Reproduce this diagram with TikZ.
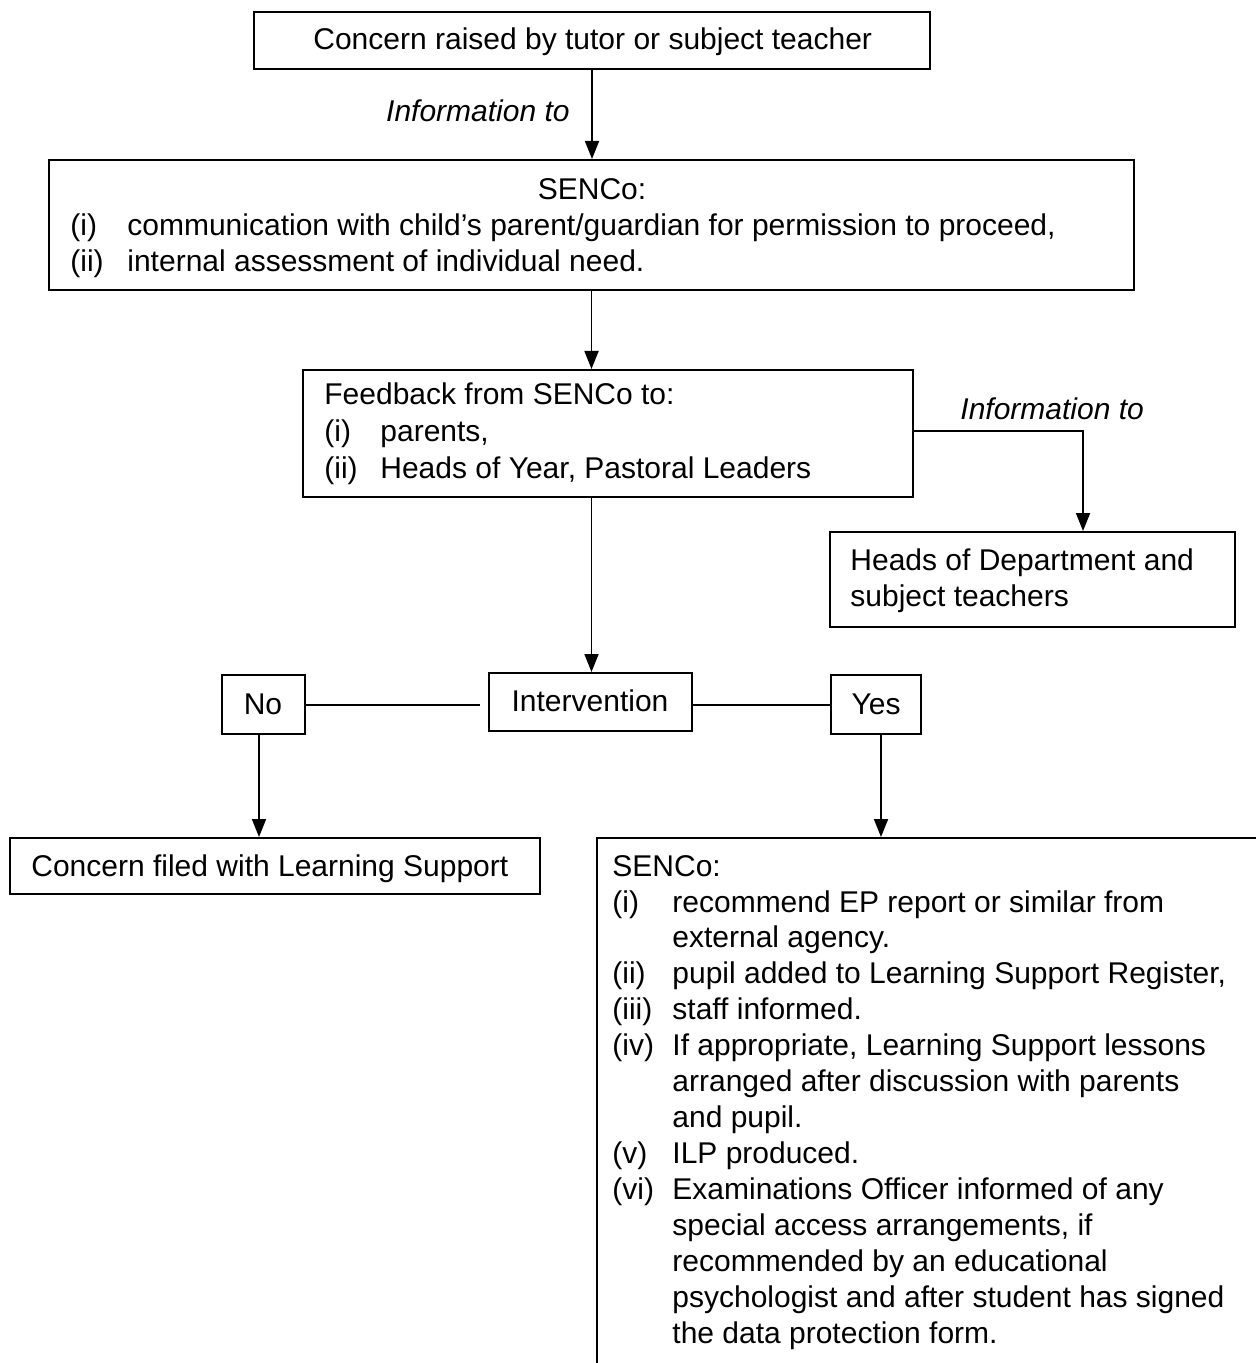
\documentclass[tikz,border=0pt]{standalone}
\usepackage{fontspec}
\setmainfont{Liberation Sans}
\usetikzlibrary{arrows.meta,fit}
\begin{document}
\begin{tikzpicture}[x=0.5pt,y=-0.5pt,
  box/.style={draw,line width=1pt,inner sep=0pt},
  txt/.style={inner sep=0pt,anchor=base west,font=\fontsize{15}{18}\selectfont},
  ctxt/.style={txt,anchor=base},
  arr/.style={line width=0.9pt,-{Triangle[width=7pt,length=9pt]}},
  ln/.style={line width=0.9pt}]
\clip (0,0) rectangle (1256,1363);
\fill[white] (0,0) rectangle (1256,1363);

% boxes
\node[box,fit={(254,12)(930,69)}] (b1) {};
\node[box,fit={(49,160)(1134,290)}] (b2) {};
\node[box,fit={(303,370)(913,497)}] (b3) {};
\node[box,fit={(830,532)(1235,627)}] (b4) {};
\node[box,fit={(489,673)(692,731)}] (int) {};
\node[box,fit={(222,675)(305,734)}] (no) {};
\node[box,fit={(831,675)(921,734)}] (yes) {};
\node[box,fit={(10,838)(540,894)}] (filed) {};
\node[box,fit={(597,838)(1300,1420)}] (big) {};

% texts
\node[txt] (t1) at (313,50) {Concern raised by tutor or subject teacher};
\node[txt,anchor=base east,font=\fontsize{15}{18}\selectfont\itshape] (info1) at (570,122) {Information to};

\node[ctxt] (t2a) at (592,200) {SENCo:};
\node[txt] (t2b) at (70,236) {(i)};
\node[txt] (t2c) at (127,236) {communication with child’s parent/guardian for permission to proceed,};
\node[txt] (t2d) at (70,272) {(ii)};
\node[txt] (t2e) at (127,272) {internal assessment of individual need.};

\node[txt] (t3a) at (324,405) {Feedback from SENCo to:};
\node[txt] (t3b) at (324,442) {(i)};
\node[txt] (t3c) at (380,442) {parents,};
\node[txt] (t3d) at (324,478) {(ii)};
\node[txt] (t3e) at (380,478) {Heads of Year, Pastoral Leaders};

\node[txt,font=\fontsize{15}{18}\selectfont\itshape] (info2) at (960,420) {Information to};

\node[txt] (t4a) at (850,570) {Heads of Department and};
\node[txt] (t4b) at (850,606) {subject teachers};

\node[ctxt] (tint) at (590,711) {Intervention};
\node[ctxt] (tno) at (263,714) {No};
\node[ctxt] (tyes) at (876,714) {Yes};
\node[txt] (tfiled) at (31,876) {Concern filed with Learning Support};

\node[txt] (s0) at (612,876) {SENCo:};
\node[txt] (s1l) at (612,912) {(i)};
\node[txt] (s1a) at (672,912) {recommend EP report or similar from};
\node[txt] (s1b) at (672,947) {external agency.};
\node[txt] (s2l) at (612,983) {(ii)};
\node[txt] (s2a) at (672,983) {pupil added to Learning Support Register,};
\node[txt] (s3l) at (612,1019) {(iii)};
\node[txt] (s3a) at (672,1019) {staff informed.};
\node[txt] (s4l) at (612,1055) {(iv)};
\node[txt] (s4a) at (672,1055) {If appropriate, Learning Support lessons};
\node[txt] (s4b) at (672,1091) {arranged after discussion with parents};
\node[txt] (s4c) at (672,1127) {and pupil.};
\node[txt] (s5l) at (612,1163) {(v)};
\node[txt] (s5a) at (672,1163) {ILP produced.};
\node[txt] (s6l) at (612,1199) {(vi)};
\node[txt] (s6a) at (672,1199) {Examinations Officer informed of any};
\node[txt] (s6b) at (672,1235) {special access arrangements, if};
\node[txt] (s6c) at (672,1271) {recommended by an educational};
\node[txt] (s6d) at (672,1307) {psychologist and after student has signed};
\node[txt] (s6e) at (672,1343) {the data protection form.};

% connectors
\draw[arr] (b1.south) -- (b2.north -| b1.south);
\draw[arr] (b2.south) -- (b3.north -| b2.south);
\draw[arr] (b3.south -| b2.south) -- (int.north -| b2.south);
\coordinate (c1) at (1083,431);
\draw[arr] (b3.east |- c1) -- (c1) -- (b4.north -| c1);
\coordinate (gap) at (480,705);
\draw[ln] (no.east |- gap) -- (gap);
\draw[ln] (int.east |- gap) -- (yes.west |- gap);
\coordinate (nx) at (259,0);
\coordinate (yx) at (881,0);
\draw[arr] (no.south -| nx) -- (filed.north -| nx);
\draw[arr] (yes.south -| yx) -- (big.north -| yx);
\end{tikzpicture}
\end{document}
